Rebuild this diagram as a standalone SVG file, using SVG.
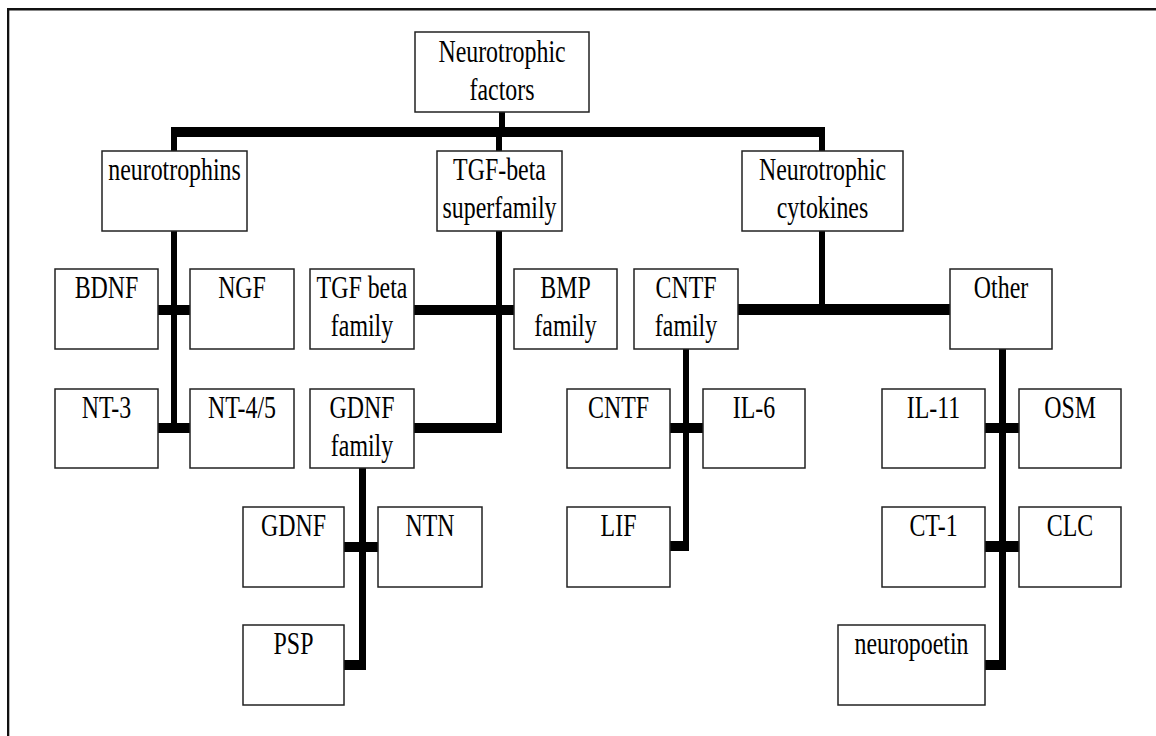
<svg xmlns="http://www.w3.org/2000/svg" width="1156" height="736" viewBox="0 0 1156 736">
<style>
.b{fill:#fff;stroke:#222;stroke-width:1.5}
.t{font-family:"Liberation Serif","Times New Roman",serif;font-size:31px;fill:#000;text-anchor:middle}
.c rect{fill:#000}
</style>
<rect width="1156" height="736" fill="#fff"/>
<g id="frame" fill="#111">
<rect x="7" y="8" width="1149" height="2.5"/>
<rect x="7" y="8" width="2.3" height="728"/>
</g>
<g class="c" id="connectors">
<rect x="499" y="111" width="6" height="17"/>
<rect x="171" y="127" width="654" height="10"/>
<rect x="171" y="127" width="6" height="25"/>
<rect x="496" y="136" width="6" height="16"/>
<rect x="819" y="127" width="6" height="25"/>
<rect x="171" y="231" width="6" height="202"/>
<rect x="158" y="305" width="32" height="10"/>
<rect x="158" y="423" width="32" height="10"/>
<rect x="496" y="231" width="6" height="202"/>
<rect x="414" y="305" width="100" height="10"/>
<rect x="414" y="423" width="88" height="10"/>
<rect x="819" y="231" width="6" height="80"/>
<rect x="738" y="304" width="212" height="11"/>
<rect x="683" y="349" width="6" height="202"/>
<rect x="670" y="423" width="33" height="10"/>
<rect x="670" y="541" width="19" height="10"/>
<rect x="999" y="349" width="7" height="321"/>
<rect x="985" y="423" width="34" height="10"/>
<rect x="985" y="541" width="34" height="11"/>
<rect x="985" y="660" width="21" height="10"/>
<rect x="359" y="468" width="7" height="202"/>
<rect x="344" y="542" width="34" height="10"/>
<rect x="344" y="660" width="22" height="10"/>
</g>
<g id="n-root"><rect class="b" x="415" y="32" width="174" height="80"/><text class="t" transform="matrix(0.77 0 0 1 502 62)">Neurotrophic</text><text class="t" transform="matrix(0.77 0 0 1 502 100)">factors</text></g>
<g id="n-neurotrophins"><rect class="b" x="102" y="151" width="145" height="80"/><text class="t" transform="matrix(0.77 0 0 1 174.5 180)">neurotrophins</text></g>
<g id="n-tgfsuper"><rect class="b" x="437" y="151" width="125" height="80"/><text class="t" transform="matrix(0.77 0 0 1 499.5 180)">TGF-beta</text><text class="t" transform="matrix(0.77 0 0 1 499.5 218)">superfamily</text></g>
<g id="n-cytokines"><rect class="b" x="742" y="151" width="161" height="80"/><text class="t" transform="matrix(0.77 0 0 1 822.5 180)">Neurotrophic</text><text class="t" transform="matrix(0.77 0 0 1 822.5 218)">cytokines</text></g>
<g id="n-bdnf"><rect class="b" x="55" y="269" width="103" height="80"/><text class="t" transform="matrix(0.77 0 0 1 106.5 298)">BDNF</text></g>
<g id="n-ngf"><rect class="b" x="190" y="269" width="104" height="80"/><text class="t" transform="matrix(0.77 0 0 1 242 298)">NGF</text></g>
<g id="n-tgfbeta"><rect class="b" x="310" y="269" width="104" height="80"/><text class="t" transform="matrix(0.77 0 0 1 362 298)">TGF beta</text><text class="t" transform="matrix(0.77 0 0 1 362 336)">family</text></g>
<g id="n-bmp"><rect class="b" x="514" y="269" width="103" height="80"/><text class="t" transform="matrix(0.77 0 0 1 565.5 298)">BMP</text><text class="t" transform="matrix(0.77 0 0 1 565.5 336)">family</text></g>
<g id="n-cntffam"><rect class="b" x="634" y="269" width="104" height="80"/><text class="t" transform="matrix(0.77 0 0 1 686 298)">CNTF</text><text class="t" transform="matrix(0.77 0 0 1 686 336)">family</text></g>
<g id="n-other"><rect class="b" x="950" y="269" width="102" height="80"/><text class="t" transform="matrix(0.77 0 0 1 1001 298)">Other</text></g>
<g id="n-nt3"><rect class="b" x="55" y="389" width="103" height="79"/><text class="t" transform="matrix(0.77 0 0 1 106.5 418)">NT-3</text></g>
<g id="n-nt45"><rect class="b" x="190" y="389" width="104" height="79"/><text class="t" transform="matrix(0.77 0 0 1 242 418)">NT-4/5</text></g>
<g id="n-gdnffam"><rect class="b" x="310" y="389" width="104" height="79"/><text class="t" transform="matrix(0.77 0 0 1 362 418)">GDNF</text><text class="t" transform="matrix(0.77 0 0 1 362 456)">family</text></g>
<g id="n-cntf"><rect class="b" x="567" y="389" width="103" height="79"/><text class="t" transform="matrix(0.77 0 0 1 618.5 418)">CNTF</text></g>
<g id="n-il6"><rect class="b" x="703" y="389" width="102" height="79"/><text class="t" transform="matrix(0.77 0 0 1 754 418)">IL-6</text></g>
<g id="n-il11"><rect class="b" x="882" y="389" width="103" height="79"/><text class="t" transform="matrix(0.77 0 0 1 933.5 418)">IL-11</text></g>
<g id="n-osm"><rect class="b" x="1019" y="389" width="102" height="79"/><text class="t" transform="matrix(0.77 0 0 1 1070 418)">OSM</text></g>
<g id="n-gdnf"><rect class="b" x="243" y="507" width="101" height="80"/><text class="t" transform="matrix(0.77 0 0 1 293.5 536)">GDNF</text></g>
<g id="n-ntn"><rect class="b" x="378" y="507" width="104" height="80"/><text class="t" transform="matrix(0.77 0 0 1 430 536)">NTN</text></g>
<g id="n-lif"><rect class="b" x="567" y="507" width="103" height="80"/><text class="t" transform="matrix(0.77 0 0 1 618.5 536)">LIF</text></g>
<g id="n-ct1"><rect class="b" x="882" y="507" width="103" height="80"/><text class="t" transform="matrix(0.77 0 0 1 933.5 536)">CT-1</text></g>
<g id="n-clc"><rect class="b" x="1019" y="507" width="102" height="80"/><text class="t" transform="matrix(0.77 0 0 1 1070 536)">CLC</text></g>
<g id="n-psp"><rect class="b" x="243" y="625" width="101" height="80"/><text class="t" transform="matrix(0.77 0 0 1 293.5 654)">PSP</text></g>
<g id="n-neuropoetin"><rect class="b" x="838" y="625" width="147" height="80"/><text class="t" transform="matrix(0.77 0 0 1 911.5 654)">neuropoetin</text></g>
</svg>
